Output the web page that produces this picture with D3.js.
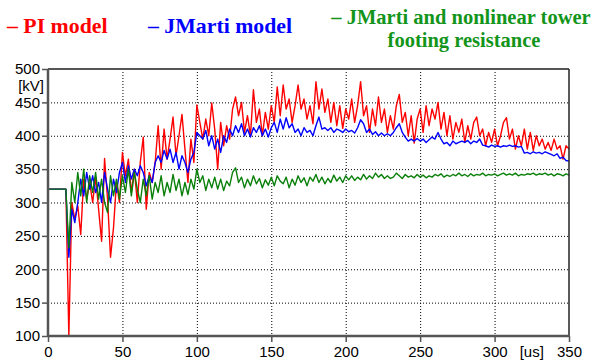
<!DOCTYPE html>
<html>
<head>
<meta charset="utf-8">
<script src="https://cdn.jsdelivr.net/npm/d3@7"></script>
<style>
  body { margin: 0; background: #fff; }
  svg text { font-family: "Liberation Sans", Arial, sans-serif; }
</style>
</head>
<body>
<div id="chart"></div>
<script>
// sample times [us], one sample every 2 us
const timeUs = d3.range(0, 351, 2);

const piModel = [
  320,320,320,320,320,320,320,
  100,300,275,295,252,335,305,330,300,338,290,242,366,305,218,262,330,300,375,340,365,315,350,300,
  360,398,290,345,330,360,415,350,410,365,395,428,370,400,432,380,330,395,360,
  446,420,395,425,400,449,410,350,420,385,415,395,440,458,430,450,405,430,400,469,420,440,400,435,410,
  445,420,473,430,476,440,455,420,445,476,440,455,425,445,418,481,440,470,435,455,420,450,415,445,411,
  440,425,455,420,445,481,430,445,405,440,415,458,420,440,405,430,410,445,462,420,435,400,430,389,425,
  440,405,445,415,440,425,450,410,435,400,430,395,420,405,425,390,415,395,420,428,400,410,385,405,390,
  410,385,400,420,427,395,410,380,400,385,410,380,405,378,400,385,395,380,390,378,395,380,385,365,385,380
];

const jmartiModel = [
  320,320,320,320,320,320,320,
  218,290,270,300,335,310,345,320,340,315,330,300,345,320,300,335,315,345,360,330,355,335,350,340,
  355,345,325,340,330,360,370,360,378,365,380,360,375,350,370,360,345,365,375,
  405,400,395,408,385,400,380,395,375,400,390,410,400,415,405,418,400,410,398,412,405,415,400,410,398,
  412,420,405,425,410,427,412,418,405,410,400,412,405,408,400,415,428,410,412,408,412,405,410,408,405,
  410,406,408,404,412,424,418,405,410,402,406,400,404,400,403,400,405,412,418,405,398,392,395,392,396,
  392,395,390,394,398,395,405,395,388,390,385,392,388,390,392,390,393,388,392,390,395,386,385,383,386,
  384,385,383,385,384,386,384,385,383,384,374,375,373,376,374,375,373,376,374,372,370,373,366,368,363,362
];

const jmartiNonlinear = [
  320,320,320,320,320,320,320,
  232,330,300,345,310,350,300,340,315,345,305,335,300,285,340,310,335,305,340,315,350,310,345,320,
  300,335,310,340,305,330,315,340,310,330,315,342,318,335,310,330,312,335,320,
  350,330,340,318,335,322,338,320,335,318,332,325,345,352,330,338,322,335,325,340,328,336,322,334,326,
  338,325,340,332,328,338,322,335,326,340,330,337,325,338,332,342,330,338,328,336,330,341,332,338,330,
  340,334,340,333,338,334,342,335,340,336,344,338,342,336,340,336,338,344,340,336,342,338,340,337,342,
  338,341,337,340,338,342,340,343,338,341,339,342,340,344,340,342,339,343,340,342,341,344,340,342,341,
  343,340,342,344,341,343,341,344,340,342,341,343,342,344,341,343,342,344,341,343,340,343,342,340,343,341
];

const yTicks = [100, 150, 200, 250, 300, 350, 400, 450, 500];
const xTicks = [0, 50, 100, 150, 200, 250, 300, 350];

const series = [
  { name: '– PI model', values: piModel, color: '#ff0000', text: '#ff0000' },
  { name: '– JMarti model', values: jmartiModel, color: '#0000ff', text: '#0000ff' },
  { name: '– JMarti and nonlinear tower', name2: 'footing resistance', values: jmartiNonlinear, color: '#0a800a', text: '#13951b' }
];

const W = 600, H = 363;
const margin = { top: 69, right: 31, bottom: 27, left: 48 };
const width = W - margin.left - margin.right;
const height = H - margin.top - margin.bottom;

const svg = d3.select('#chart')
  .append('svg')
  .attr('width', W)
  .attr('height', H);

const g = svg.append('g')
  .attr('transform', `translate(${margin.left},${margin.top})`);

const x = d3.scaleLinear().domain([0, 350]).range([0, width]);
const y = d3.scaleLinear().domain([100, 500]).range([height, 0]);

// dotted grid
g.selectAll('.hgrid')
  .data(yTicks.filter(d => d > 100 && d < 500))
  .enter().append('line')
  .attr('x1', 0).attr('x2', width)
  .attr('y1', d => y(d) + 0.5).attr('y2', d => y(d) + 0.5)
  .attr('stroke', '#000').attr('stroke-width', 1).attr('stroke-dasharray', '1,2');

g.selectAll('.vgrid')
  .data(xTicks.filter(d => d > 0 && d < 350))
  .enter().append('line')
  .attr('y1', 0).attr('y2', height)
  .attr('x1', d => x(d) + 0.5).attr('x2', d => x(d) + 0.5)
  .attr('stroke', '#000').attr('stroke-width', 1).attr('stroke-dasharray', '1,2');

// traces
const line = d3.line()
  .x((d, i) => x(timeUs[i]))
  .y(d => y(d));

series.forEach(s => {
  g.append('path')
    .datum(s.values)
    .attr('fill', 'none')
    .attr('stroke', s.color)
    .attr('stroke-width', 1.4)
    .attr('stroke-linejoin', 'round')
    .attr('d', line);
});

// frame
g.append('line').attr('x1', 0).attr('x2', width).attr('y1', 0).attr('y2', 0)
  .attr('stroke', '#555').attr('stroke-width', 2);
g.append('line').attr('x1', width).attr('x2', width).attr('y1', 0).attr('y2', height)
  .attr('stroke', '#222').attr('stroke-width', 1.5);
g.append('line').attr('x1', 0).attr('x2', width).attr('y1', height).attr('y2', height)
  .attr('stroke', '#555').attr('stroke-width', 2.5);
g.append('line').attr('x1', 0).attr('x2', 0).attr('y1', 0).attr('y2', height)
  .attr('stroke', '#555').attr('stroke-width', 2.5);

// axes
const yAxis = g.append('g')
  .call(d3.axisLeft(y).tickValues(yTicks).tickSize(6).tickPadding(2));
yAxis.select('.domain').remove();
yAxis.selectAll('.tick line').attr('stroke', '#555').attr('stroke-width', 1.5);
yAxis.selectAll('.tick text')
  .attr('font-size', '15px').attr('fill', '#000')
  .style('font-family', '"Liberation Sans", Arial, sans-serif');

const xAxis = g.append('g')
  .attr('transform', `translate(0,${height})`)
  .call(d3.axisBottom(x).tickValues(xTicks).tickSize(6).tickPadding(4));
xAxis.select('.domain').remove();
xAxis.selectAll('.tick line').attr('stroke', '#555').attr('stroke-width', 1.5);
xAxis.selectAll('.tick text')
  .attr('font-size', '15px').attr('fill', '#000')
  .style('font-family', '"Liberation Sans", Arial, sans-serif');

// unit labels
g.append('text')
  .attr('x', -4).attr('y', y(475) + 5)
  .attr('text-anchor', 'end')
  .attr('font-size', '15px')
  .text('[kV]');

g.append('text')
  .attr('x', x(325)).attr('y', height + 21)
  .attr('text-anchor', 'middle')
  .attr('font-size', '15px')
  .text('[us]');

// legend
const legendFont = '"Liberation Serif", "Times New Roman", serif';
svg.append('text')
  .attr('x', 7).attr('y', 33)
  .attr('fill', series[0].text)
  .attr('font-size', '21.8px').attr('font-weight', 'bold')
  .style('font-family', legendFont)
  .text(series[0].name);

svg.append('text')
  .attr('x', 148).attr('y', 33)
  .attr('fill', series[1].text)
  .attr('font-size', '21.8px').attr('font-weight', 'bold')
  .style('font-family', legendFont)
  .text(series[1].name);

const greenLegend = svg.append('text')
  .attr('x', 461).attr('y', 24)
  .attr('text-anchor', 'middle')
  .attr('fill', series[2].text)
  .attr('font-size', '20.5px').attr('font-weight', 'bold')
  .style('font-family', legendFont);
greenLegend.append('tspan').attr('x', 461).attr('dy', 0).text(series[2].name);
greenLegend.append('tspan').attr('x', 464).attr('dy', 23).text(series[2].name2);
</script>
</body>
</html>
